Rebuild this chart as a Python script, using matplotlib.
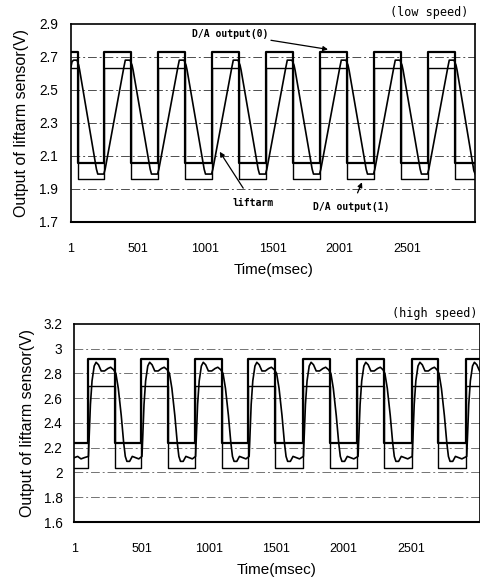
import matplotlib
matplotlib.use('Agg')
import matplotlib.pyplot as plt

plt.rcParams['font.family'] = ['Liberation Sans', 'DejaVu Sans']

# ---------------- low speed (top) ----------------
top_edges = [1, 50, 247, 448, 649, 850, 1051, 1252, 1453, 1654, 1855, 2056,
             2257, 2458, 2659, 2860, 3010]
top_da0 = [2.73, 2.06, 2.73, 2.06, 2.73, 2.06, 2.73, 2.06, 2.73, 2.06, 2.73,
           2.06, 2.73, 2.06, 2.73, 2.06, 2.06]
top_da1 = [2.63, 1.96, 2.63, 1.96, 2.63, 1.96, 2.63, 1.96, 2.63, 1.96, 2.63,
           1.96, 2.63, 1.96, 2.63, 1.96, 1.96]

top_lift_t = [1, 8, 20, 45, 58, 65,
              190, 200, 245, 255, 395, 405, 440, 455, 463,
              590, 600, 645, 655, 797, 807, 842, 857, 865,
              992, 1002, 1047, 1057, 1199, 1209, 1244, 1259, 1267,
              1394, 1404, 1449, 1459, 1601, 1611, 1646, 1661, 1669,
              1796, 1806, 1851, 1861, 2003, 2013, 2048, 2063, 2071,
              2198, 2208, 2253, 2263, 2405, 2415, 2450, 2465, 2473,
              2600, 2610, 2655, 2665, 2807, 2817, 2852, 2867, 2875,
              3000, 3010]
top_lift_v = [2.64, 2.67, 2.68, 2.68, 2.65, 2.62,
              2.02, 1.99, 1.99, 2.02, 2.64, 2.68, 2.68, 2.65, 2.62,
              2.02, 1.99, 1.99, 2.02, 2.64, 2.68, 2.68, 2.65, 2.62,
              2.02, 1.99, 1.99, 2.02, 2.64, 2.68, 2.68, 2.65, 2.62,
              2.02, 1.99, 1.99, 2.02, 2.64, 2.68, 2.68, 2.65, 2.62,
              2.02, 1.99, 1.99, 2.02, 2.64, 2.68, 2.68, 2.65, 2.62,
              2.02, 1.99, 1.99, 2.02, 2.64, 2.68, 2.68, 2.65, 2.62,
              2.02, 1.99, 1.99, 2.02, 2.64, 2.68, 2.68, 2.65, 2.62,
              2.01, 1.99]

top_yticks = [1.7, 1.9, 2.1, 2.3, 2.5, 2.7, 2.9]
top_yticklabels = ['1.7', '1.9', '2.1', '2.3', '2.5', '2.7', '2.9']

# ---------------- high speed (bottom) ----------------
bot_edges = [1, 100, 299, 498, 697, 896, 1095, 1294, 1493, 1697, 1896, 2103,
             2297, 2505, 2699, 2910, 3040]
bot_da0 = [2.24, 2.92, 2.24, 2.92, 2.24, 2.92, 2.24, 2.92, 2.24, 2.92, 2.24,
           2.92, 2.24, 2.92, 2.24, 2.92, 2.92]
bot_da1 = [2.04, 2.70, 2.04, 2.70, 2.04, 2.70, 2.04, 2.70, 2.04, 2.70, 2.04,
           2.70, 2.04, 2.70, 2.04, 2.70, 2.70]

bot_lift_t = [1, 25, 50, 75,
              105, 120, 132, 148, 162, 180, 200, 225, 250, 270, 292,
              309, 327, 349, 367, 379, 391, 411, 431, 454, 479,
              503, 518, 530, 546, 560, 578, 598, 623, 648, 668, 690,
              707, 725, 747, 765, 777, 789, 809, 829, 852, 877,
              901, 916, 928, 944, 958, 976, 996, 1021, 1046, 1066, 1088,
              1105, 1123, 1145, 1163, 1175, 1187, 1207, 1227, 1250, 1275,
              1299, 1314, 1326, 1342, 1356, 1374, 1394, 1419, 1444, 1464, 1486,
              1503, 1521, 1543, 1561, 1573, 1585, 1605, 1625, 1648, 1673,
              1702, 1717, 1729, 1745, 1759, 1777, 1797, 1822, 1847, 1867, 1889,
              1906, 1924, 1946, 1964, 1976, 1988, 2008, 2028, 2051, 2076,
              2108, 2123, 2135, 2151, 2165, 2183, 2203, 2228, 2253, 2273, 2293,
              2307, 2325, 2347, 2365, 2377, 2389, 2409, 2429, 2452, 2477,
              2510, 2525, 2537, 2553, 2567, 2585, 2605, 2630, 2655, 2675, 2694,
              2709, 2727, 2749, 2767, 2779, 2791, 2811, 2831, 2854, 2879,
              2915, 2930, 2942, 2958, 2972, 2990, 3010, 3035]
bot_lift_v = [2.12, 2.13, 2.11, 2.12,
              2.13, 2.55, 2.74, 2.86, 2.89, 2.87, 2.82, 2.82, 2.84, 2.85, 2.83,
              2.80, 2.68, 2.46, 2.24, 2.13, 2.09, 2.09, 2.13, 2.12, 2.11,
              2.13, 2.55, 2.74, 2.86, 2.89, 2.87, 2.82, 2.82, 2.84, 2.85, 2.83,
              2.80, 2.68, 2.46, 2.24, 2.13, 2.09, 2.09, 2.13, 2.12, 2.11,
              2.13, 2.55, 2.74, 2.86, 2.89, 2.87, 2.82, 2.82, 2.84, 2.85, 2.83,
              2.80, 2.68, 2.46, 2.24, 2.13, 2.09, 2.09, 2.13, 2.12, 2.11,
              2.13, 2.55, 2.74, 2.86, 2.89, 2.87, 2.82, 2.82, 2.84, 2.85, 2.83,
              2.80, 2.68, 2.46, 2.24, 2.13, 2.09, 2.09, 2.13, 2.12, 2.11,
              2.13, 2.55, 2.74, 2.86, 2.89, 2.87, 2.82, 2.82, 2.84, 2.85, 2.83,
              2.80, 2.68, 2.46, 2.24, 2.13, 2.09, 2.09, 2.13, 2.12, 2.11,
              2.13, 2.55, 2.74, 2.86, 2.89, 2.87, 2.82, 2.82, 2.84, 2.85, 2.83,
              2.80, 2.68, 2.46, 2.24, 2.13, 2.09, 2.09, 2.13, 2.12, 2.11,
              2.13, 2.55, 2.74, 2.86, 2.89, 2.87, 2.82, 2.82, 2.84, 2.85, 2.83,
              2.80, 2.68, 2.46, 2.24, 2.13, 2.09, 2.09, 2.13, 2.12, 2.11,
              2.13, 2.55, 2.74, 2.86, 2.89, 2.87, 2.82, 2.82]

bot_yticks = [1.6, 1.8, 2.0, 2.2, 2.4, 2.6, 2.8, 3.0, 3.2]
bot_yticklabels = ['1.6', '1.8', '2', '2.2', '2.4', '2.6', '2.8', '3', '3.2']

xticks = [1, 501, 1001, 1501, 2001, 2501]
xticklabels = ['1', '501', '1001', '1501', '2001', '2501']

mono = ['DejaVu Sans Mono']


def style_axes(ax, yticks, yticklabels, ylim, ypad, gridcolor):
    ax.set_xlim(1, 3010)
    ax.set_ylim(*ylim)
    ax.set_yticks(yticks)
    ax.set_yticklabels(yticklabels)
    ax.set_xticks(xticks)
    ax.set_xticklabels(xticklabels)
    ax.tick_params(axis='y', length=0, labelsize=9.8, pad=ypad)
    ax.tick_params(axis='x', length=0, labelsize=9, pad=15)
    for s in ax.spines.values():
        s.set_linewidth(1.2)
    ax.spines['bottom'].set_linewidth(1.5)
    for y in yticks[1:-1]:
        ax.axhline(y, color=gridcolor, lw=0.7, ls=(0, (9, 3, 2, 3)), zorder=1)
    ax.set_ylabel('Output of liftarm sensor(V)', fontsize=11.5)
    ax.set_xlabel('Time(msec)', fontsize=11)


fig = plt.figure(figsize=(4.8, 5.81), dpi=100)

# top panel
ax1 = fig.add_axes([0.148, 0.618, 0.842, 0.341])
ax1.step(top_edges, top_da0, where='post', color='black', lw=1.6, zorder=3)
ax1.step(top_edges, top_da1, where='post', color='black', lw=1.0, zorder=3)
ax1.plot(top_lift_t, top_lift_v, color='black', lw=1.2, zorder=4)
style_axes(ax1, top_yticks, top_yticklabels, (1.7, 2.9), 9.5, '0.3')
ax1.yaxis.set_label_coords(-0.104, 0.5)
ax1.xaxis.set_label_coords(0.5, -0.205)

ax1.annotate('D/A output(0)', xy=(1914, 2.745), xytext=(900, 2.84),
             fontsize=7, family=mono, fontweight='bold', va='center',
             arrowprops=dict(arrowstyle='-|>', color='black', lw=0.9,
                             shrinkA=55, shrinkB=0, mutation_scale=7))
ax1.annotate('liftarm', xy=(1108, 2.125), xytext=(1354, 1.815),
             fontsize=7, family=mono, fontweight='bold', ha='center', va='center',
             arrowprops=dict(arrowstyle='-|>', color='black', lw=0.9,
                             shrinkA=6, shrinkB=0, mutation_scale=7))
ax1.annotate('D/A output(1)', xy=(2167, 1.94), xytext=(2090, 1.79),
             fontsize=7, family=mono, fontweight='bold', ha='center', va='center',
             arrowprops=dict(arrowstyle='-|>', color='black', lw=0.9,
                             shrinkA=5, shrinkB=0, mutation_scale=7))

# bottom panel
ax2 = fig.add_axes([0.155, 0.1015, 0.844, 0.341])
ax2.step(bot_edges, bot_da0, where='post', color='black', lw=1.6, zorder=3)
ax2.step(bot_edges, bot_da1, where='post', color='black', lw=1.0, zorder=3)
ax2.plot(bot_lift_t, bot_lift_v, color='black', lw=1.2, zorder=4)
style_axes(ax2, bot_yticks, bot_yticklabels, (1.6, 3.2), 8.5, '0.45')
ax2.yaxis.set_label_coords(-0.098, 0.5)
ax2.xaxis.set_label_coords(0.5, -0.205)

fig.text(0.975, 0.978, '(low speed)', ha='right', va='center',
         fontsize=8.5, family=mono)
fig.text(0.994, 0.4596, '(high speed)', ha='right', va='center',
         fontsize=8.5, family=mono)

fig.savefig('out.png', dpi=100)
